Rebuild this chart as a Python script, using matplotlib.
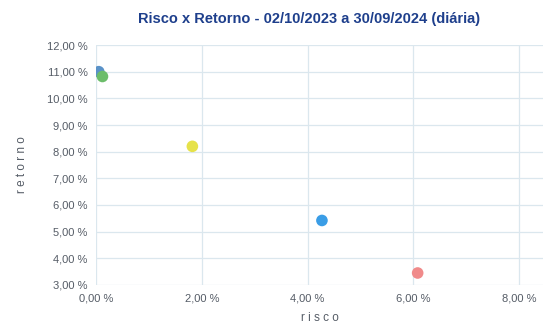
import matplotlib
matplotlib.use("Agg")
import matplotlib.pyplot as plt
from matplotlib.ticker import FuncFormatter

# Risk (annualised volatility, %) vs return (%) per fund
risco = [0.05, 0.12, 1.82, 4.27, 6.08]
retorno = [11.00, 10.82, 8.20, 5.42, 3.45]
cores = ["#5a92c8", "#6cbd6a", "#e6e24a", "#3a9de6", "#f08a8a"]

x_ticks = [0, 2, 4, 6, 8]
y_ticks = [3, 4, 5, 6, 7, 8, 9, 10, 11, 12]

plt.rcParams["font.family"] = ["Liberation Sans", "DejaVu Sans"]

fig = plt.figure(figsize=(5.43, 3.31), dpi=100)
ax = fig.add_axes([0.177, 0.139, 0.823, 0.725])

ax.scatter(risco, retorno, s=70, c=cores, zorder=3, linewidths=0)

ax.set_xlim(0, 8.45)
ax.set_ylim(3, 12)
ax.set_xticks(x_ticks)
ax.set_yticks(y_ticks)

fmt = FuncFormatter(lambda v, _: f"{v:.2f}".replace(".", ",") + " %")
ax.xaxis.set_major_formatter(fmt)
ax.yaxis.set_major_formatter(fmt)

ax.grid(True, color="#dbe7ee", linewidth=0.9)
ax.set_axisbelow(True)
for s in ax.spines.values():
    s.set_visible(False)
ax.tick_params(length=0, labelsize=8, labelcolor="#555c66", pad=6)

ax.set_xlabel("r i s c o", fontsize=8.5, color="#555c66", labelpad=6)
ax.set_ylabel("r e t o r n o", fontsize=8.5, color="#555c66", labelpad=14)

fig.suptitle("Risco x Retorno - 02/10/2023 a 30/09/2024 (diária)",
             x=0.57, y=0.965, fontsize=10.5, fontweight="bold", color="#1e3f8c")

fig.savefig("out.png", dpi=100)
